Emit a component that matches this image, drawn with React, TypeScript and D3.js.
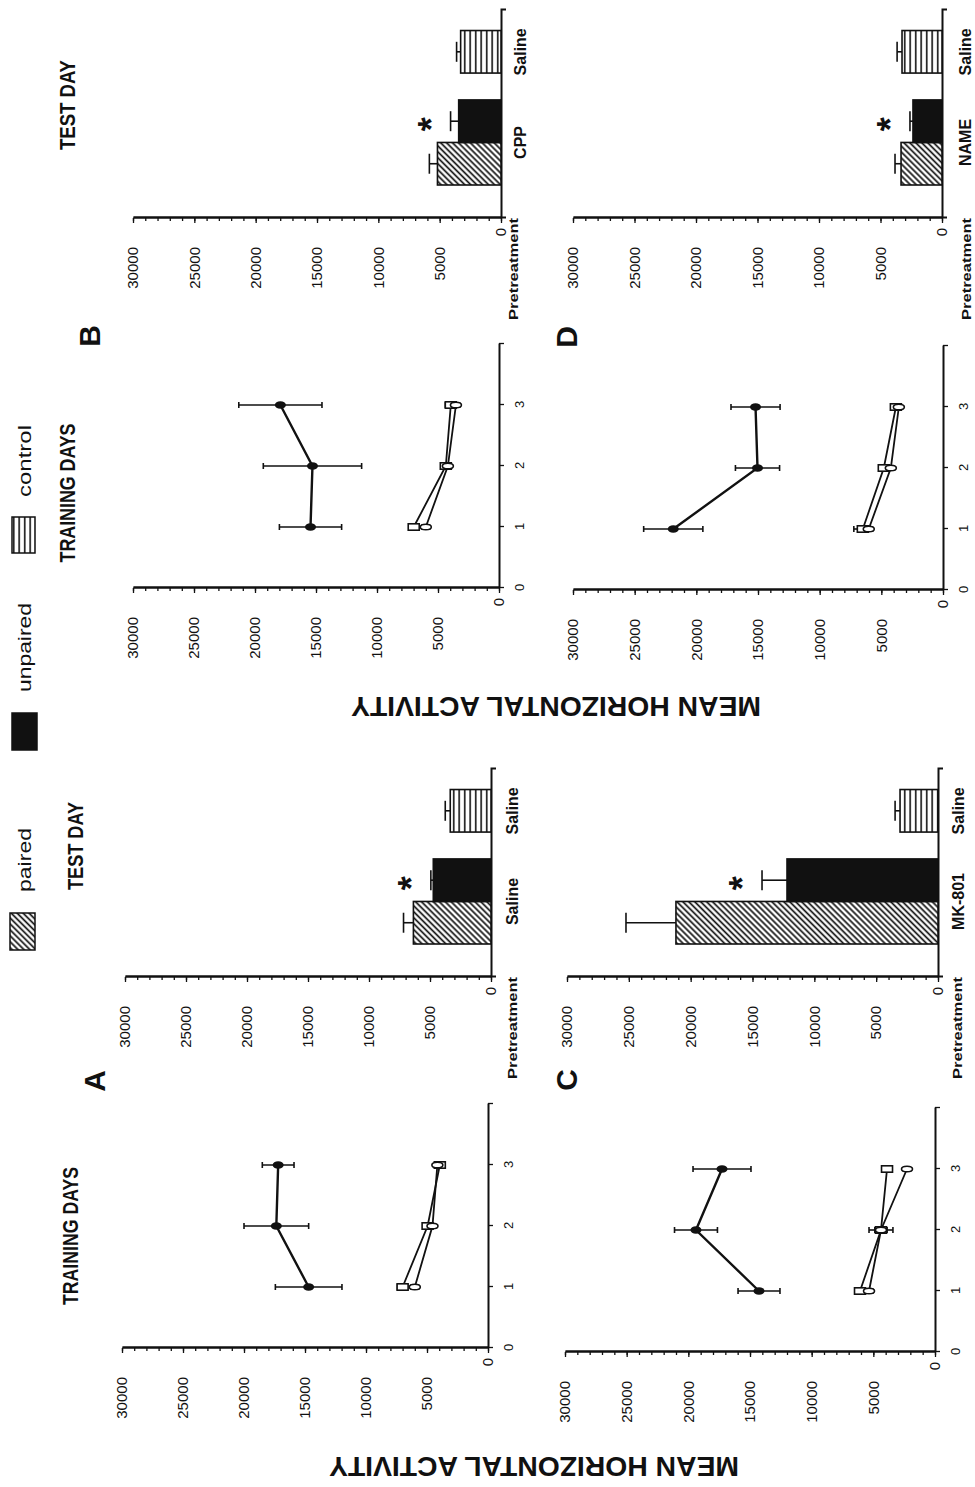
import { useEffect, useRef } from 'react';
import * as d3 from 'd3';

const INK = '#111';
const FONT = '"Liberation Sans", Arial, sans-serif';

// value axis
const valueTicks = [0, 5000, 10000, 15000, 20000, 25000, 30000];
const valueTickLabels = ['0', '5000', '10000', '15000', '20000', '25000', '30000'];
const minorStep = 1000;
const yLabel = 'MEAN HORIZONTAL ACTIVITY';

// training days axis
const dayTicks = [0, 1, 2, 3, 4];
const dayTickLabels = ['0', '1', '2', '3', ''];
const trainingDays = [1, 2, 3];

const seriesNames = ['paired', 'unpaired', 'control'];
const panelIds = ['A', 'B', 'C', 'D'];

// panel A
const trainPairedA = [14700, 17350, 17200];
const trainPairedErrA = [2730, 2650, 1300];
const trainUnpairedA = [7000, 4950, 3950];
const trainUnpairedErrA = [420, 300, 200];
const trainControlA = [6000, 4550, 4150];
const trainControlErrA = [300, 250, 200];
const testA = [6360, 4730, 3340];
const testErrA = [810, 200, 410];
const pretreatA = ['Saline', 'Saline'];

// panel B
const trainPairedB = [15450, 15290, 17920];
const trainPairedErrB = [2550, 4030, 3410];
const trainUnpairedB = [6990, 4360, 3950];
const trainUnpairedErrB = [350, 300, 450];
const trainControlB = [6000, 4190, 3530];
const trainControlErrB = [300, 250, 300];
const testB = [5180, 3450, 3290];
const testErrB = [660, 660, 330];
const pretreatB = ['CPP', 'Saline'];

// panel C
const trainPairedC = [14270, 19380, 17270];
const trainPairedErrC = [1700, 1740, 2350];
const trainUnpairedC = [6080, 4380, 3890];
const trainUnpairedErrC = [250, 970, 200];
const trainControlC = [5350, 4380, 2270];
const trainControlErrC = [300, 500, 250];
const testC = [21190, 12210, 3070];
const testErrC = [4040, 2020, 400];
const pretreatC = ['MK-801', 'Saline'];

// panel D
const trainPairedD = [21870, 15040, 15200];
const trainPairedErrD = [2400, 1790, 1990];
const trainUnpairedD = [6500, 4800, 3820];
const trainUnpairedErrD = [730, 300, 250];
const trainControlD = [6020, 4230, 3580];
const trainControlErrD = [300, 250, 200];
const testD = [3330, 2360, 3250];
const testErrD = [490, 245, 400];
const pretreatD = ['NAME', 'Saline'];

// layout, in the un-rotated figure (1487 wide x 975 tall)
const layout: Record<string, any> = {
    A: { trainX0: 139, trainY0: 488, trainY30: 122, testX: 510, testY0: 491, testY30: 125, catBase: 518, preBase: 517, letter: [406, 105], trainTitle: [251, 78, 138], testTitle: [641, 83, 88] },
    B: { trainX0: 899, trainY0: 499, trainY30: 133, testX: 1269, testY0: 501, testY30: 133, catBase: 526, preBase: 518, letter: [1151, 100], trainTitle: [994, 75, 139], testTitle: [1382, 75, 90] },
    C: { trainX0: 135, trainY0: 935, trainY30: 565, testX: 510, testY0: 938, testY30: 567, catBase: 964, preBase: 962, letter: [407, 577] },
    D: { trainX0: 897, trainY0: 943, trainY30: 573, testX: 1269, testY0: 942, testY30: 573, catBase: 971, preBase: 971, letter: [1150, 577] },
};

const panels = [
    { id: 'A', pretreat: pretreatA, test: testA, testErr: testErrA, train: [[trainPairedA, trainPairedErrA], [trainUnpairedA, trainUnpairedErrA], [trainControlA, trainControlErrA]] },
    { id: 'B', pretreat: pretreatB, test: testB, testErr: testErrB, train: [[trainPairedB, trainPairedErrB], [trainUnpairedB, trainUnpairedErrB], [trainControlB, trainControlErrB]] },
    { id: 'C', pretreat: pretreatC, test: testC, testErr: testErrC, train: [[trainPairedC, trainPairedErrC], [trainUnpairedC, trainUnpairedErrC], [trainControlC, trainControlErrC]] },
    { id: 'D', pretreat: pretreatD, test: testD, testErr: testErrD, train: [[trainPairedD, trainPairedErrD], [trainUnpairedD, trainUnpairedErrD], [trainControlD, trainControlErrD]] },
];

const fills: Record<string, string> = { paired: 'url(#hatch)', unpaired: INK, control: 'url(#stripes)' };

function styleAxis(sel: any) {
    sel.attr('color', INK);
    sel.select('.domain').attr('stroke-width', 2);
    sel.selectAll('.tick line').attr('stroke-width', 1.3);
}

function drawValueAxis(g: any, y: any, x0: number) {
    const minor = g.append('g')
        .attr('transform', `translate(${x0},0)`)
        .call(d3.axisLeft(y).tickValues(d3.range(0, 30001, minorStep)).tickSize(3).tickSizeOuter(0).tickFormat(() => ''));
    styleAxis(minor);
    const major = g.append('g')
        .attr('transform', `translate(${x0},0)`)
        .call(d3.axisLeft(y).tickValues(valueTicks).tickSize(5).tickSizeOuter(0).tickFormat(() => ''));
    styleAxis(major);

    g.append('g').selectAll('text')
        .data(valueTicks)
        .join('text')
        .attr('x', (d: number) => x0 - (d === 0 ? 10 : 29))
        .attr('y', (d: number) => y(d))
        .attr('dy', '0.35em')
        .attr('text-anchor', 'end')
        .attr('font-family', FONT)
        .attr('font-size', 15)
        .attr('fill', INK)
        .text((_: number, i: number) => valueTickLabels[i]);
}

export default function App() {
    const svgRef = useRef<SVGSVGElement>(null);

    useEffect(() => {
        if (!svgRef.current) return;
        const svg = d3.select(svgRef.current);
        svg.selectAll('*').remove();

        const defs = svg.append('defs');
        const hatch = defs.append('pattern')
            .attr('id', 'hatch')
            .attr('patternUnits', 'userSpaceOnUse')
            .attr('width', 4.2)
            .attr('height', 4.2)
            .attr('patternTransform', 'rotate(45)');
        hatch.append('rect').attr('width', 4.2).attr('height', 4.2).attr('fill', '#fff');
        hatch.append('line').attr('x1', 2.1).attr('x2', 2.1).attr('y1', 0).attr('y2', 4.2)
            .attr('stroke', INK).attr('stroke-width', 1.7);

        // stripes run along the bars (vertical once the figure is turned)
        const stripes = defs.append('pattern')
            .attr('id', 'stripes')
            .attr('patternUnits', 'userSpaceOnUse')
            .attr('width', 6)
            .attr('height', 5.5);
        stripes.append('rect').attr('width', 6).attr('height', 5.5).attr('fill', '#fff');
        stripes.append('line').attr('x1', 0).attr('x2', 6).attr('y1', 2.7).attr('y2', 2.7)
            .attr('stroke', INK).attr('stroke-width', 1.6);

        svg.append('rect').attr('width', 975).attr('height', 1487).attr('fill', '#fff');

        // the figure is printed turned a quarter turn
        const root = svg.append('g').attr('transform', 'translate(0,1487) rotate(-90)');

        // Legend
        const legendBoxes = [[537, 10, 37, 25], [737, 12, 37, 25], [934, 12, 36, 23]];
        const legendText = [[595, 64], [795, 89], [990, 72]];
        seriesNames.forEach((s, i) => {
            const [bx, by, bw, bh] = legendBoxes[i];
            root.append('rect')
                .attr('x', bx).attr('y', by).attr('width', bw).attr('height', bh)
                .attr('fill', fills[s]).attr('stroke', INK).attr('stroke-width', 1.5);
            root.append('text')
                .attr('x', legendText[i][0]).attr('y', 31)
                .attr('font-family', FONT).attr('font-size', 19).attr('fill', INK)
                .attr('textLength', legendText[i][1]).attr('lengthAdjust', 'spacingAndGlyphs')
                .text(s);
        });

        // Shared value-axis titles
        [[30, 534], [790, 556]].forEach(([tx, ty]) => {
            root.append('text')
                .attr('transform', `translate(${tx},${ty}) rotate(-90)`)
                .attr('text-anchor', 'middle')
                .attr('font-family', FONT).attr('font-size', 28).attr('font-weight', 'bold').attr('fill', INK)
                .attr('textLength', 410).attr('lengthAdjust', 'spacingAndGlyphs')
                .text(yLabel);
        });

        panels.forEach((p) => {
            const L = layout[p.id];
            const g = root.append('g');

            // panel letter
            g.append('text')
                .attr('x', L.letter[0]).attr('y', L.letter[1])
                .attr('text-anchor', 'middle')
                .attr('font-family', FONT).attr('font-size', 30).attr('font-weight', 'bold').attr('fill', INK)
                .text(panelIds[panelIds.indexOf(p.id)]);

            if (L.trainTitle) {
                g.append('text')
                    .attr('x', L.trainTitle[0]).attr('y', L.trainTitle[1])
                    .attr('text-anchor', 'middle')
                    .attr('font-family', FONT).attr('font-size', 22).attr('font-weight', 'bold').attr('fill', INK)
                    .attr('textLength', L.trainTitle[2]).attr('lengthAdjust', 'spacingAndGlyphs')
                    .text('TRAINING DAYS');
                g.append('text')
                    .attr('x', L.testTitle[0]).attr('y', L.testTitle[1])
                    .attr('text-anchor', 'middle')
                    .attr('font-family', FONT).attr('font-size', 22).attr('font-weight', 'bold').attr('fill', INK)
                    .attr('textLength', L.testTitle[2]).attr('lengthAdjust', 'spacingAndGlyphs')
                    .text('TEST DAY');
            }

            // ---- Training days ----
            const yT = d3.scaleLinear().domain([0, 30000]).range([L.trainY0, L.trainY30]);
            const xT = d3.scaleLinear().domain([0, 4]).range([L.trainX0, L.trainX0 + 244]);
            drawValueAxis(g, yT, L.trainX0);

            const dayAxis = g.append('g')
                .attr('transform', `translate(0,${L.trainY0})`)
                .call(d3.axisBottom(xT).tickValues(dayTicks).tickSize(5).tickSizeOuter(0).tickPadding(11)
                    .tickFormat((_: any, i: number) => dayTickLabels[i]));
            styleAxis(dayAxis);
            dayAxis.selectAll('text').attr('font-family', FONT).attr('font-size', 13).attr('fill', INK);

            const line = d3.line<number>()
                .x((_, i) => xT(trainingDays[i]))
                .y((v) => yT(v));

            p.train.forEach(([vals, errs], si) => {
                const sg = g.append('g');
                sg.append('path')
                    .attr('d', line(vals))
                    .attr('fill', 'none')
                    .attr('stroke', INK)
                    .attr('stroke-width', si === 0 ? 2.4 : 1.8);
                vals.forEach((v, i) => {
                    const cx = xT(trainingDays[i]);
                    const lo = yT(v - errs[i]);
                    const hi = yT(v + errs[i]);
                    sg.append('line').attr('x1', cx).attr('x2', cx).attr('y1', lo).attr('y2', hi)
                        .attr('stroke', INK).attr('stroke-width', 1.6);
                    [lo, hi].forEach((yy) => {
                        sg.append('line').attr('x1', cx - 3).attr('x2', cx + 3).attr('y1', yy).attr('y2', yy)
                            .attr('stroke', INK).attr('stroke-width', 1.6);
                    });
                });
                vals.forEach((v, i) => {
                    const cx = xT(trainingDays[i]);
                    const cy = yT(v);
                    if (si === 0) {
                        sg.append('ellipse').attr('cx', cx).attr('cy', cy).attr('rx', 3.8).attr('ry', 5.5).attr('fill', INK);
                    } else if (si === 1) {
                        sg.append('rect').attr('x', cx - 3.2).attr('y', cy - 5.5).attr('width', 6.4).attr('height', 11)
                            .attr('fill', '#fff').attr('stroke', INK).attr('stroke-width', 1.6);
                    } else {
                        sg.append('ellipse').attr('cx', cx).attr('cy', cy).attr('rx', 2.8).attr('ry', 5.5)
                            .attr('fill', '#fff').attr('stroke', INK).attr('stroke-width', 1.6);
                    }
                });
            });

            // ---- Test day ----
            const yB = d3.scaleLinear().domain([0, 30000]).range([L.testY0, L.testY30]);
            const xG = d3.scaleBand<string>().domain(['drug', 'saline']).range([L.testX + 33, L.testX + 230]).paddingInner(0.24);
            const xS = d3.scaleBand<string>().domain(['paired', 'unpaired']).range([0, xG.bandwidth()]);
            drawValueAxis(g, yB, L.testX);

            const catAxis = g.append('g')
                .attr('transform', `translate(0,${L.testY0})`)
                .call(d3.axisBottom(d3.scaleLinear().domain([0, 1]).range([L.testX, L.testX + 208])).tickValues([]).tickSizeOuter(5));
            styleAxis(catAxis);

            const bars = seriesNames.map((s, i) => ({
                s,
                group: i < 2 ? 'drug' : 'saline',
                slot: i < 2 ? s : 'paired',
                v: p.test[i],
                e: p.testErr[i],
            }));

            bars.forEach((b) => {
                const bx = (xG(b.group) as number) + (xS(b.slot) as number);
                const bw = xS.bandwidth();
                g.append('rect')
                    .attr('x', bx).attr('y', yB(b.v))
                    .attr('width', bw).attr('height', yB(0) - yB(b.v))
                    .attr('fill', fills[b.s]).attr('stroke', INK).attr('stroke-width', 1.6);
                const cx = bx + bw / 2;
                g.append('line').attr('x1', cx).attr('x2', cx).attr('y1', yB(b.v)).attr('y2', yB(b.v + b.e))
                    .attr('stroke', INK).attr('stroke-width', 1.6);
                g.append('line').attr('x1', cx - 10).attr('x2', cx + 10).attr('y1', yB(b.v + b.e)).attr('y2', yB(b.v + b.e))
                    .attr('stroke', INK).attr('stroke-width', 1.6);
                if (b.s === 'unpaired') {
                    g.append('text')
                        .attr('x', cx - 3)
                        .attr('y', yB(b.v + b.e) - 27 + 20)
                        .attr('text-anchor', 'middle')
                        .attr('font-family', FONT).attr('font-size', 36).attr('font-weight', 'bold').attr('fill', INK)
                        .text('*');
                }
            });

            // category labels
            const drugCenter = (xG('drug') as number) + xG.bandwidth() / 2;
            const salineCenter = (xG('saline') as number) + xS.bandwidth() / 2;
            [drugCenter, salineCenter].forEach((cx, i) => {
                g.append('text')
                    .attr('x', cx).attr('y', L.catBase)
                    .attr('text-anchor', 'middle')
                    .attr('font-family', FONT).attr('font-size', 16).attr('font-weight', 'bold').attr('fill', INK)
                    .text(p.pretreat[i]);
            });
            g.append('text')
                .attr('x', L.testX).attr('y', L.preBase)
                .attr('text-anchor', 'end')
                .attr('font-family', FONT).attr('font-size', 13).attr('font-weight', 'bold').attr('fill', INK)
                .attr('textLength', 102).attr('lengthAdjust', 'spacingAndGlyphs')
                .text('Pretreatment');
        });
    }, []);

    return (
        <>
            <style>{'body{margin:0}'}</style>
            <svg ref={svgRef} width={975} height={1487} style={{ display: 'block' }}></svg>
        </>
    );
}
